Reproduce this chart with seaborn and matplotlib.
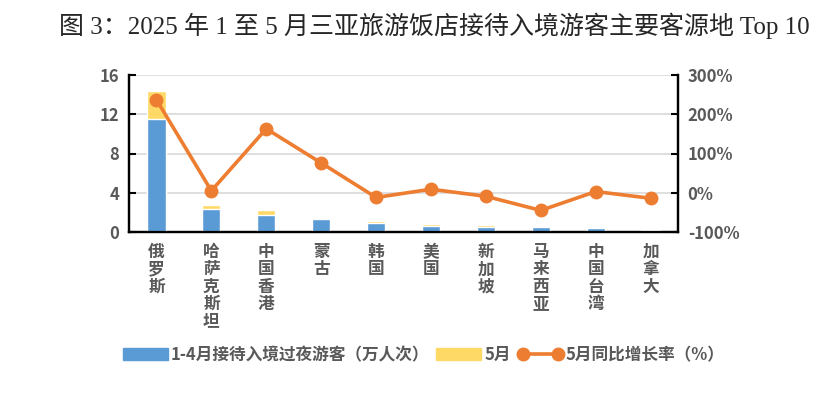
import numpy as np
import pandas as pd
import matplotlib
matplotlib.use("Agg")
import matplotlib.pyplot as plt
import seaborn as sns
from matplotlib.patches import Patch
from matplotlib.lines import Line2D

sns.set_theme(style="white")
plt.rcParams['font.family'] = ['Noto Sans CJK SC', 'DejaVu Sans']

# data
regions = ["俄罗斯", "哈萨克斯坦", "中国香港", "蒙古", "韩国",
           "美国", "新加坡", "马来西亚", "中国台湾", "加拿大"]
jan_apr = [11.5, 2.35, 1.73, 1.33, 0.92, 0.61, 0.51, 0.48, 0.41, 0.20]
may = [2.9, 0.40, 0.50, 0.12, 0.20, 0.21, 0.20, 0.13, 0.10, 0.08]
may_yoy = [237, 5, 163, 76, -12, 9, -9, -45, 3, -14]

df = pd.DataFrame({"region": regions, "jan_apr": jan_apr, "may": may, "yoy": may_yoy})
df["total"] = df["jan_apr"] + df["may"]
df["pos"] = np.arange(len(df))

blue = "#5B9BD5"
yellow = "#FFD966"
orange = "#ED7D31"
grey = "#595959"

fig = plt.figure(figsize=(8.39, 3.99), dpi=100)
ax = fig.add_axes([129 / 839, 1 - 232 / 399, 549 / 839, 157 / 399])

sns.barplot(data=df, x="region", y="total", color=yellow, width=0.33,
            saturation=1, ax=ax, zorder=2)
sns.barplot(data=df, x="region", y="jan_apr", color=blue, width=0.33,
            saturation=1, ax=ax, zorder=3)

ax.set_ylim(0, 16)
ax.set_yticks([0, 4, 8, 12, 16])
ax.set_xlim(-0.5, len(df) - 0.5)
ax.yaxis.grid(True, color="#D9D9D9", linewidth=1.2, zorder=0)
ax.set_axisbelow(True)
ax.set_xlabel("")
ax.set_ylabel("")
ax.set_xticks(df["pos"])
ax.set_xticklabels(["\n".join(r) for r in regions], va="top",
                   linespacing=0.95)
ax.tick_params(axis="x", length=0, pad=8, labelsize=12, labelcolor=grey)
ax.tick_params(axis="y", direction="in", length=5, width=1.5,
               labelsize=12, labelcolor=grey, color="black", pad=7)
for lab in ax.get_xticklabels() + ax.get_yticklabels():
    lab.set_fontweight("bold")

ax2 = ax.twinx()
sns.lineplot(data=df, x="pos", y="yoy", color=orange, linewidth=2.6,
             marker="o", markersize=10, markeredgewidth=0, ax=ax2, zorder=5)
ax2.set_ylim(-100, 300)
ax2.set_yticks([-100, 0, 100, 200, 300])
ax2.set_yticklabels([f"{v}%" for v in [-100, 0, 100, 200, 300]])
ax2.set_xlim(-0.5, len(df) - 0.5)
ax2.set_ylabel("")
ax2.tick_params(axis="y", direction="in", length=5, width=1.5,
                labelsize=12, labelcolor=grey, color="black", pad=7)
for lab in ax2.get_yticklabels():
    lab.set_fontweight("bold")

for a in (ax, ax2):
    a.spines["top"].set_visible(False)
    for s in ("left", "right", "bottom"):
        a.spines[s].set_color("black")
        a.spines[s].set_linewidth(1.6)

handles = [Patch(color=blue), Patch(color=yellow),
           Line2D([0], [0], color=orange, linewidth=2.6, marker="o",
                  markersize=9)]
labels = ["1-4月接待入境过夜游客（万人次）", "5月", "5月同比增长率（%）"]
leg = fig.legend(handles, labels, loc="center", bbox_to_anchor=(0.505, 0.11),
                 ncol=3, frameon=False, handlelength=2.7, handleheight=0.7,
                 columnspacing=0.4, handletextpad=0.2, numpoints=2,
                 prop={"size": 12, "weight": "bold"})
for t in leg.get_texts():
    t.set_color(grey)

fig.text(0.518, 0.935, "图 3：2025 年 1 至 5 月三亚旅游饭店接待入境游客主要客源地 Top 10",
         ha="center", va="center", fontsize=18,
         family=["Liberation Serif", "Noto Sans CJK SC"])

fig.savefig("out.png", dpi=100)
